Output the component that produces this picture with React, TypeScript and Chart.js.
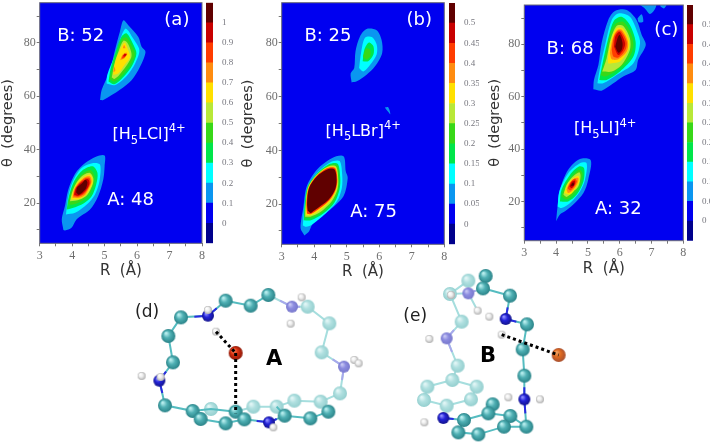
import React, { useEffect, useRef } from "react";
import { Chart, registerables } from "chart.js";
Chart.register(...registerables);

type Pt = number[];
type Ring = [number, Pt[]];

// ---- axis ticks ----
const rTicks = [3, 3.5, 4, 4.5, 5, 5.5, 6, 6.5, 7, 7.5, 8];
const thetaTicks = [10, 20, 30, 40, 50, 60, 70, 80, 90];
const thetaLabels = [20, 40, 60, 80];
const barLabelsA = [0, 0.1, 0.2, 0.3, 0.4, 0.5, 0.6, 0.7, 0.8, 0.9, 1];
const barLabelsBC = [0, 0.05, 0.1, 0.15, 0.2, 0.25, 0.3, 0.35, 0.4, 0.45, 0.5];
const levelsA = [-0.1, 0, 0.1, 0.2, 0.3, 0.4, 0.5, 0.6, 0.7, 0.8, 0.9, 1, 1.1];
const levelsBC = [-0.05, 0, 0.05, 0.1, 0.15, 0.2, 0.25, 0.3, 0.35, 0.4, 0.45, 0.5, 0.55];
const levelColors = ["#00008c", "#0000f0", "#0a96f0", "#00ffff", "#00e64a", "#38d818", "#b8e838", "#ffe000", "#ff8c10", "#ff3c00", "#c80000", "#600000"];

// ---- contour rings: [index of level colour, [R, theta] vertices] ----
const panelA_stateB: Ring[] = [
  [2, [[4.86,58.6],[4.91,62.4],[5.17,69.8],[5.32,77.3],[5.47,84.1],[5.58,88.4],[5.73,86.6],[6.04,82.2],[6.14,78.5],[6.26,76.6],[6.09,71],[5.83,66],[5.47,62.4],[4.96,58.6]]],
  [3, [[5.06,64.8],[5.08,68],[5.32,75.4],[5.53,82.9],[5.66,85.3],[5.88,81.6],[6.07,77.3],[5.94,72.3],[5.68,67.6],[5.32,64.2]]],
  [4, [[5.12,65.5],[5.18,70],[5.35,77],[5.52,82.3],[5.68,83.5],[5.88,79.5],[5.98,76],[5.85,71.5],[5.6,67.5],[5.3,64.5]]],
  [5, [[5.16,66.5],[5.25,71],[5.42,77.5],[5.55,81.5],[5.68,82],[5.85,78.5],[5.93,75.5],[5.78,71.5],[5.55,68],[5.3,65.5]]],
  [6, [[5.22,67],[5.3,72],[5.45,77.5],[5.58,80.8],[5.7,80],[5.82,76.5],[5.82,74.5],[5.65,71],[5.45,68],[5.3,66.5]]],
  [7, [[5.26,68],[5.33,73],[5.5,78],[5.62,80],[5.72,77.5],[5.78,74.5],[5.6,71.5],[5.42,68.5]]],
  [8, [[5.48,73.5],[5.55,75.5],[5.68,76.3],[5.62,74.3]]],
  [8, [[5.27,69],[5.3,71],[5.33,69.5]]],
  [8, [[5.56,78],[5.6,79.2],[5.64,78]]],
  [9, [[5.52,74],[5.58,75.5],[5.7,75.9],[5.62,74.6]]],
  [10, [[5.57,75],[5.62,76],[5.67,75.5],[5.62,74.9]]],
];
const panelA_stateA: Ring[] = [
  [2, [[3.73,10],[3.68,14],[3.78,19],[3.88,25],[4.09,31],[4.4,35],[4.75,37.5],[5,37.8],[5,33.8],[4.96,29],[4.8,22.6],[4.55,17.6],[4.14,14],[3.98,10.8],[3.78,9.8]]],
  [3, [[3.81,15.8],[3.88,22.6],[4.02,28.2],[4.29,33.2],[4.65,35],[4.86,34.4],[4.84,28.2],[4.7,23.2],[4.45,19.5],[4.09,16.4]]],
  [4, [[3.83,17.6],[3.9,22.6],[4.06,28.2],[4.32,32.3],[4.63,33.8],[4.78,31.3],[4.74,27],[4.6,22.6],[4.35,19.9],[4.04,18.3]]],
  [5, [[3.88,19.5],[3.95,23.8],[4.12,28.2],[4.35,31.3],[4.57,32.3],[4.69,30],[4.67,27],[4.53,23.2],[4.29,20.7],[4.02,19.5]]],
  [6, [[3.93,20.7],[4.01,24.5],[4.16,28.2],[4.37,30.7],[4.55,31.3],[4.65,29.4],[4.63,27],[4.47,23.2],[4.24,21.4]]],
  [7, [[3.97,21.4],[4.04,24.8],[4.19,28.2],[4.38,30],[4.55,30.7],[4.63,28.8],[4.6,26.6],[4.43,23.2],[4.22,21.6]]],
  [8, [[4.01,22],[4.06,25.1],[4.21,27.8],[4.4,29.8],[4.55,30],[4.6,28.2],[4.55,26.3],[4.4,23.2],[4.21,22]]],
  [9, [[4.04,22.6],[4.09,25.3],[4.24,27.8],[4.42,29.4],[4.53,29.4],[4.57,27.8],[4.51,26],[4.37,23.5],[4.19,22.4]]],
  [10, [[4.06,23.2],[4.12,25.7],[4.26,27.6],[4.43,29],[4.51,28.8],[4.53,27.3],[4.45,25.3],[4.32,23.6],[4.19,22.8]]],
  [11, [[4.12,24.1],[4.16,26],[4.29,27.3],[4.41,28.8],[4.47,27.8],[4.43,25.7],[4.32,24.1],[4.2,23.2]]],
];
const panelB_stateB: Ring[] = [
  [2, [[5.15,65.3],[5.12,68.6],[5.23,70.7],[5.27,76.9],[5.41,82.5],[5.61,85.2],[5.92,84.7],[6.07,81.2],[6.09,76.3],[5.87,71.3],[5.61,68.2],[5.31,65.7]]],
  [2, [[6.17,56],[6.28,56],[6.34,53.5],[6.26,54.6]]],
  [3, [[5.38,70.7],[5.44,76.3],[5.56,81.9],[5.77,82.2],[5.92,79.4],[5.92,75.7],[5.72,71.9],[5.51,69.4]]],
  [4, [[5.49,73.2],[5.54,77.5],[5.68,80.2],[5.82,78.8],[5.82,75.7],[5.66,73.2]]],
  [5, [[5.5,75],[5.6,78],[5.72,77.5],[5.72,75],[5.6,73.8]]],
];
const panelB_stateA: Ring[] = [
  [2, [[3.7,8.3],[3.58,11.1],[3.67,19.1],[3.77,26.6],[4.08,32.8],[4.54,37.1],[4.9,37.8],[4.97,32.2],[5.03,29.7],[4.9,22.9],[4.49,17.9],[3.97,12.9],[3.84,9.8]]],
  [3, [[3.65,12],[3.7,19],[3.8,26],[4.08,31.5],[4.5,35.6],[4.78,36],[4.86,31],[4.85,26],[4.7,21],[4.35,16.5],[3.95,12.5],[3.75,11.5]]],
  [4, [[3.68,14],[3.71,20],[3.8,26.5],[4.06,31],[4.45,34.8],[4.72,35],[4.8,30],[4.78,25.5],[4.62,20.5],[4.28,16.5],[3.9,14]]],
  [5, [[3.7,15],[3.73,20.2],[3.81,26.3],[4.06,30.8],[4.42,34.2],[4.7,34.4],[4.76,29.5],[4.74,25.2],[4.58,20.8],[4.22,16.7],[3.88,14.8]]],
  [6, [[3.72,15.3],[3.74,20.3],[3.81,26.2],[4.06,30.7],[4.41,33.9],[4.67,34],[4.74,29.2],[4.71,25.2],[4.54,21],[4.18,16.9],[3.88,15.3]]],
  [7, [[3.74,15.8],[3.75,20.4],[3.82,26.1],[4.07,30.5],[4.4,33.6],[4.65,33.7],[4.72,29.1],[4.68,25.2],[4.5,21.2],[4.1,17],[3.88,15.8]]],
  [9, [[3.78,16.4],[3.76,20.4],[3.83,26],[4.07,30.4],[4.39,33.3],[4.64,33.4],[4.71,29],[4.66,25.3],[4.47,21.4],[4.03,17.2],[3.88,16.2]]],
  [11, [[3.8,17.5],[3.78,20.4],[3.84,26],[4.08,30.3],[4.38,32.8],[4.62,33],[4.69,29],[4.64,25.3],[4.44,21.6],[3.98,17.4],[3.89,16.7]]],
];
const panelC_stateB: Ring[] = [
  [2, [[5.17,62.8],[5.19,66.4],[5.33,72.1],[5.43,80.4],[5.64,89.3],[5.85,92.7],[6.22,93.1],[6.53,89.3],[6.69,83.6],[6.82,79.7],[6.58,74],[6.5,70.2],[6.11,67.7],[5.8,65.1],[5.43,62.3]]],
  [2, [[6.62,95.2],[6.79,93.7],[6.95,91.6],[7.09,93.1],[7.14,95.2]]],
  [2, [[7.27,94.6],[7.39,93.7],[7.47,95.2],[7.3,95.2]]],
  [2, [[6.56,89.9],[6.69,91.5],[6.74,88.6],[6.6,88.4]]],
  [3, [[5.3,65.1],[5.38,70.9],[5.54,79.7],[5.75,89.3],[5.96,91.8],[6.32,90.5],[6.55,84.8],[6.64,80.4],[6.43,72.8],[5.9,68.3],[5.48,65.1]]],
  [4, [[5.36,66.4],[5.45,72.1],[5.64,82.3],[5.82,89],[6.06,90.5],[6.32,87.4],[6.5,81],[6.43,75.3],[6.01,69.6],[5.59,66.4]]],
  [5, [[5.4,68.3],[5.54,74],[5.69,83.6],[5.87,87.8],[6.11,88.6],[6.35,84.2],[6.43,79.1],[6.22,73.4],[5.85,69.6],[5.54,67.7]]],
  [6, [[5.45,69.6],[5.59,74.7],[5.71,81.7],[5.9,87],[6.11,87],[6.32,82.3],[6.32,77.8],[6.06,72.1],[5.75,69.6]]],
  [7, [[5.64,75.9],[5.75,82.3],[5.9,86.1],[6.09,86.1],[6.29,81.7],[6.27,77.8],[6.01,73.4],[5.75,72.8],[5.64,72.8]]],
  [8, [[5.69,76.6],[5.78,82.3],[5.92,85.5],[6.07,85.5],[6.26,81],[6.22,77.2],[5.96,74.3],[5.75,74.3]]],
  [9, [[5.75,77.8],[5.82,82.9],[5.95,85.2],[6.06,84.8],[6.22,81],[6.18,77.8],[5.96,75],[5.8,75.3]]],
  [10, [[5.82,79.1],[5.86,82.9],[5.98,84.8],[6.04,84.2],[6.17,80.4],[6.11,77.8],[5.96,75.9]]],
  [11, [[5.86,79.1],[5.93,82.3],[6,83.6],[6.09,80.4],[6.06,77.8],[5.96,76.8]]],
];
const panelC_stateA: Ring[] = [
  [2, [[4,12.4],[4.04,17.5],[4.12,24.5],[4.38,32.1],[4.75,36.2],[5.09,35.7],[5.01,28.3],[4.86,23.2],[4.54,18.8],[4.28,16.2],[4.12,15]]],
  [3, [[4.05,18.1],[4.1,23.8],[4.38,30.8],[4.75,34.6],[4.96,34.6],[4.91,28.3],[4.75,23.8],[4.44,19.4],[4.17,17.5]]],
  [4, [[4.12,20],[4.17,24.5],[4.44,30.2],[4.73,33.4],[4.88,32.7],[4.86,27.6],[4.65,22.6],[4.38,20]]],
  [5, [[4.17,21.9],[4.25,25.1],[4.49,29.6],[4.73,32.1],[4.83,30.8],[4.77,26.4],[4.59,23.2],[4.33,20.7]]],
  [6, [[4.23,22.6],[4.33,26.4],[4.54,29.6],[4.73,31.1],[4.77,29.6],[4.7,25.7],[4.54,23.8],[4.33,21.7]]],
  [7, [[4.26,23.2],[4.35,26.4],[4.54,28.9],[4.7,29.8],[4.73,27.6],[4.62,25.1],[4.44,22.6]]],
  [8, [[4.33,24.5],[4.42,27],[4.56,28.7],[4.7,28.9],[4.67,26.8],[4.54,24.5],[4.38,23.2]]],
  [9, [[4.36,25.1],[4.47,27.6],[4.59,28.7],[4.65,27.6],[4.56,25.5],[4.44,24.2]]],
  [10, [[4.42,25.7],[4.49,27.4],[4.59,28],[4.59,26.6],[4.49,25.1]]],
  [11, [[4.46,26],[4.54,27.3],[4.56,26.2]]],
];

// ---- labels in data coordinates ----
type Run = { t: string; s?: -1 | 1 };
const compoundA: Run[] = [{ t: "[H" }, { t: "5", s: -1 }, { t: "LCl]" }, { t: "4+", s: 1 }];
const compoundB: Run[] = [{ t: "[H" }, { t: "5", s: -1 }, { t: "LBr]" }, { t: "4+", s: 1 }];
const compoundC: Run[] = [{ t: "[H" }, { t: "5", s: -1 }, { t: "LI]" }, { t: "4+", s: 1 }];

// ---- molecule (d): atom positions in the picture's own frame ----
const dCarbonGhost = [[563,65],[628,115],[605,202],[660,325],[523,347],[400,365],[470,365],[602,350],[273,372]];
const dCarbonFront = [[183,97],[145,153],[159,232],[135,361],[317,47],[392,62],[445,30],[218,378],[242,402],[317,415],[347,380],[373,403],[494,392],[571,400],[625,380]];
const dNitrogenGhost = [[516,65],[672,245]];
const dNitrogenFront = [[264,92],[118,287],[447,412]];
const dHydrogen = [[264,75],[288,140],[65,273],[122,276],[545,37],[512,116],[703,225],[716,235],[460,427]];
const dHalide = [[347,204]];
const dBondsGhost = [[[445,30],[516,65],[563,65],[628,115],[605,202],[672,245],[660,325],[602,350],[523,347],[470,365],[400,365],[347,380]], [[602,350],[625,380]]];
const dBondsFront = [[[317,47],[264,92],[183,97],[145,153],[159,232],[118,287],[135,361],[218,378],[242,402],[317,415],[373,403],[447,412],[494,392],[571,400],[625,380]], [[317,47],[392,62],[445,30]], [[218,378],[273,372],[347,380],[373,403]], [[494,392],[470,365]]];
const dBondsNFront = [[[223,95],[264,92],[290,70]], [[138,260],[118,287],[127,324]], [[410,408],[447,412],[470,402]]];
const dBondsNGhost = [[[480,47],[516,65],[540,65]], [[638,223],[672,245],[666,285]]];
const dContacts = [[[288,140],[347,204]], [[347,204],[347,385]]];

// ---- molecule (e) ----
const eCarbonGhost = [[235,32],[180,72],[215,155],[203,287],[187,330],[112,350],[102,390],[260,350],[243,388],[170,407]];
const eCarbonFront = [[287,18],[279,55],[360,77],[411,163],[398,238],[403,317],[409,470],[308,403],[295,430],[361,438],[342,470],[265,493],[205,487],[222,450]];
const eNitrogenGhost = [[235,70],[170,205]];
const eNitrogenFront = [[347,147],[403,388],[160,444]];
const eHydrogen = [[183,75],[263,122],[298,140],[335,194],[118,207],[355,382],[450,388],[103,457]];
const eHalide = [[506,255]];
const eBondsGhost = [[[235,32],[180,72],[235,70],[279,55]], [[235,70],[263,122]], [[215,155],[170,205],[203,287],[187,330],[112,350],[102,390],[170,407],[243,388],[260,350],[187,330]], [[180,72],[215,155]]];
const eBondsFront = [[[287,18],[279,55],[360,77],[347,147],[411,163],[398,238],[403,317],[403,388],[409,470],[342,470],[265,493],[205,487],[222,450],[295,430],[308,403]], [[160,444],[222,450]], [[295,430],[361,438],[342,470]], [[361,438],[409,470]]];
const eBondsNFront = [[[353,112],[347,147],[379,155]], [[403,352],[403,388],[406,430]], [[160,444],[191,447]]];
const eBondsNGhost = [[[257,62],[235,70]], [[192,180],[170,205],[186,246]]];
const eContacts = [[[335,194],[506,255]]];

const PANEL_BG = "#0000f0";
const TICK_FONT = "'Liberation Serif', serif";
const SANS = "'DejaVu Sans', sans-serif";

function ringDatasets(rings: Ring[]) {
  return rings.map(([lvl, pts], i) => ({
    data: [...pts, pts[0]].map(([x, y]) => ({ x, y })),
    showLine: true,
    fill: "shape",
    tension: 0.3,
    backgroundColor: levelColors[lvl],
    borderWidth: 0,
    pointRadius: 0,
    order: 1000 - i - lvl * 100,
  }));
}

type Lab = { x: number; y: number; runs: Run[]; size: number; color: string; weight?: string };

const textPlugin = (labels: Lab[]) => ({
  id: "plotText",
  afterDatasetsDraw(chart: any) {
    const ctx = chart.ctx;
    const { x: sx, y: sy } = chart.scales;
    ctx.save();
    ctx.textBaseline = "alphabetic";
    ctx.textAlign = "left";
    for (const l of labels) {
      let px = sx.getPixelForValue(l.x);
      const py = sy.getPixelForValue(l.y);
      ctx.fillStyle = l.color;
      for (const r of l.runs) {
        const size = r.s ? l.size * 0.72 : l.size;
        ctx.font = `${l.weight || "normal"} ${size}px ${SANS}`;
        const dy = r.s === -1 ? l.size * 0.28 : r.s === 1 ? -l.size * 0.42 : 0;
        ctx.fillText(r.t, px, py + dy);
        px += ctx.measureText(r.t).width;
      }
    }
    ctx.restore();
  },
});

const framePlugin = {
  id: "frame",
  beforeDraw(chart: any) {
    const { left, top, width, height } = chart.chartArea;
    chart.ctx.save();
    chart.ctx.fillStyle = PANEL_BG;
    chart.ctx.fillRect(left, top, width, height);
    chart.ctx.restore();
  },
  afterDraw(chart: any) {
    const { left, top, width, height } = chart.chartArea;
    chart.ctx.save();
    chart.ctx.strokeStyle = "#6a6a78";
    chart.ctx.lineWidth = 1;
    chart.ctx.strokeRect(left, top, width, height);
    chart.ctx.restore();
  },
};

const zeroPad = (s: any) => {
  s.paddingLeft = s.paddingRight = s.paddingTop = s.paddingBottom = 0;
};

function contourConfig(g: any, rings: Ring[], labels: Lab[]) {
  return {
    type: "scatter",
    data: { datasets: ringDatasets(rings) },
    plugins: [framePlugin, textPlugin(labels)],
    options: {
      animation: false,
      responsive: false,
      layout: { autoPadding: false, padding: { top: g.top, right: g.right, left: 0, bottom: 0 } },
      plugins: { legend: { display: false }, tooltip: { enabled: false }, filler: { propagate: false } },
      scales: {
        x: {
          type: "linear", min: 3, max: 8,
          afterBuildTicks: (s: any) => { s.ticks = rTicks.map((value) => ({ value })); },
          afterFit: (s: any) => { s.height = g.bottom; zeroPad(s); },
          grid: { drawOnChartArea: false, tickLength: 3, tickColor: "#777" },
          border: { display: false },
          ticks: { autoSkip: false, maxRotation: 0, padding: 2, color: "#6e6e6e", font: { family: TICK_FONT, size: 12 },
            callback: (v: number) => (Number.isInteger(v) ? String(v) : "") },
          title: { display: true, text: "R  (Å)", color: "#333", font: { family: SANS, size: 15 }, padding: { top: 0, bottom: g.xTitle } },
        },
        y: {
          type: "linear", min: 5, max: 95,
          afterBuildTicks: (s: any) => { s.ticks = thetaTicks.map((value) => ({ value })); },
          afterFit: (s: any) => { s.width = g.left; zeroPad(s); },
          grid: { drawOnChartArea: false, tickLength: 3, tickColor: "#777" },
          border: { display: false },
          ticks: { autoSkip: false, padding: 1, color: "#6e6e6e", font: { family: TICK_FONT, size: 12 },
            callback: (v: number) => (thetaLabels.includes(v) ? String(v) : "") },
          title: { display: true, text: "θ  (degrees)", color: "#333", font: { family: SANS, size: 14.5 }, padding: { top: 0, bottom: 1 } },
        },
      },
    },
  };
}

function colorbarConfig(g: any, levels: number[], labels: number[]) {
  return {
    type: "bar",
    data: {
      labels: [""],
      datasets: levelColors.map((c, i) => ({
        data: [[levels[i], levels[i + 1]]],
        backgroundColor: c,
        borderWidth: 0,
        barPercentage: 1,
        categoryPercentage: 1,
        grouped: false,
      })),
    },
    options: {
      animation: false,
      responsive: false,
      layout: { autoPadding: false, padding: { top: g.top, right: 0, left: 0, bottom: g.bottomPad } },
      plugins: { legend: { display: false }, tooltip: { enabled: false } },
      scales: {
        x: { display: false },
        y: {
          position: "right",
          min: levels[0], max: levels[levels.length - 1],
          afterBuildTicks: (s: any) => { s.ticks = labels.map((value) => ({ value })); },
          afterFit: (s: any) => { s.width = 24; zeroPad(s); },
          grid: { display: false },
          border: { display: false },
          ticks: { autoSkip: false, padding: 1, color: "#77777f", font: { family: TICK_FONT, size: 9 }, callback: (v: number) => String(v) },
        },
      },
    },
  };
}

function sphere(r: number, hi: string, mid: string, edge: string) {
  const c = document.createElement("canvas");
  c.width = c.height = r * 2 + 2;
  const ctx = c.getContext("2d")!;
  const o = r + 1;
  const g = ctx.createRadialGradient(o - r * 0.35, o - r * 0.4, r * 0.1, o, o, r);
  g.addColorStop(0, hi);
  g.addColorStop(0.45, mid);
  g.addColorStop(1, edge);
  ctx.fillStyle = g;
  ctx.beginPath();
  ctx.arc(o, o, r, 0, Math.PI * 2);
  ctx.fill();
  return c;
}

const toXY = (pts: number[][]) => pts.map(([x, y]) => ({ x, y }));
const joinPaths = (paths: number[][][]) => paths.flatMap((p) => [...toXY(p), { x: NaN, y: NaN }]);

function moleculeConfig(frame: any, m: any, labels: Lab[]) {
  const C = sphere(7, "#b8eeee", "#4fb0b4", "#2a8388");
  const Cg = sphere(7, "#e2f6f6", "#b0e0e0", "#94cfcf");
  const N = sphere(6, "#8f8fff", "#2222d8", "#14148c");
  const Ng = sphere(6, "#c8c8f4", "#8c8ce0", "#7878cc");
  const H = sphere(4, "#ffffff", "#eeeeee", "#b0b0b0");
  const X = sphere(7, m.haloHi, m.halo, m.haloEdge);
  const atoms = (data: number[][], style: any) => ({ data: toXY(data), pointStyle: style, pointRadius: 7, showLine: false });
  const bond = (paths: number[][][], color: string, w = 2) => ({ data: joinPaths(paths), showLine: true, spanGaps: false, borderColor: color, borderWidth: w, pointRadius: 0 });
  const list = [
    bond(m.bondsGhost, "#a6dede"),
    bond(m.bondsNGhost, "#a8a8ec"),
    atoms(m.cGhost, Cg),
    atoms(m.nGhost, Ng),
    bond(m.bondsFront, "#55bcc0"),
    bond(m.bondsNFront, "#2a2ae0"),
    atoms(m.cFront, C),
    atoms(m.nFront, N),
    atoms(m.h, H),
    atoms(m.x, X),
    { ...bond(m.contacts, "#000", 3), borderDash: [3, 3] },
  ];
  return {
    type: "scatter",
    data: { datasets: list.map((d, i) => ({ ...d, order: list.length - i })) },
    plugins: [textPlugin(labels)],
    options: {
      animation: false,
      responsive: false,
      clip: false,
      layout: { autoPadding: false, padding: 0 },
      plugins: { legend: { display: false }, tooltip: { enabled: false } },
      scales: {
        x: { display: false, type: "linear", min: frame.x0, max: frame.x1 },
        y: { display: false, type: "linear", min: frame.y0, max: frame.y1, reverse: true },
      },
    },
  };
}

const WHITE = "#ffffff";
const charts = () => [
  { left: 0, top: 0, w: 210, h: 285, cfg: contourConfig({ top: 2.7, right: 8, bottom: 41.7, left: 39.7, xTitle: 4.5 }, [...panelA_stateB, ...panelA_stateA], [
    { x: 3.54, y: 80.7, runs: [{ t: "B: 52" }], size: 18, color: WHITE },
    { x: 5.08, y: 19.2, runs: [{ t: "A: 48" }], size: 18, color: WHITE },
    { x: 6.84, y: 86.8, runs: [{ t: "(a)" }], size: 18, color: WHITE },
    { x: 5.24, y: 44, runs: compoundA, size: 16, color: WHITE },
  ]) },
  { left: 206, top: 0, w: 31, h: 250, cfg: colorbarConfig({ top: 2.7, bottomPad: 6.7 }, levelsA, barLabelsA) },
  { left: 240, top: 0, w: 212, h: 285, cfg: contourConfig({ top: 2.7, right: 7.7, bottom: 40.7, left: 41.7, xTitle: 3.5 }, [...panelB_stateB, ...panelB_stateA], [
    { x: 3.7, y: 80.9, runs: [{ t: "B: 25" }], size: 18, color: WHITE },
    { x: 5.11, y: 15, runs: [{ t: "A: 75" }], size: 18, color: WHITE },
    { x: 6.84, y: 86.6, runs: [{ t: "(b)" }], size: 18, color: WHITE },
    { x: 4.35, y: 45.5, runs: compoundB, size: 16, color: WHITE },
  ]) },
  { left: 448.7, top: 0, w: 30, h: 250, cfg: colorbarConfig({ top: 3, bottomPad: 5.7 }, levelsBC, barLabelsBC) },
  { left: 487, top: 0, w: 204, h: 285, cfg: contourConfig({ top: 5, right: 7.7, bottom: 44.3, left: 37.3, xTitle: 6.5 }, [...panelC_stateB, ...panelC_stateA], [
    { x: 3.7, y: 76.2, runs: [{ t: "B: 68" }], size: 18, color: WHITE },
    { x: 5.22, y: 15.3, runs: [{ t: "A: 32" }], size: 18, color: WHITE },
    { x: 7.09, y: 83.6, runs: [{ t: "(c)" }], size: 18, color: WHITE },
    { x: 4.56, y: 46, runs: compoundC, size: 16, color: WHITE },
  ]) },
  { left: 687.3, top: 0, w: 30, h: 250, cfg: colorbarConfig({ top: 5, bottomPad: 9.3 }, levelsBC, barLabelsBC) },
  { left: 120, top: 285, w: 270, h: 161, cfg: moleculeConfig({ x0: 0, x1: 810, y0: 0, y1: 483 }, {
    cGhost: dCarbonGhost, cFront: dCarbonFront, nGhost: dNitrogenGhost, nFront: dNitrogenFront, h: dHydrogen, x: dHalide,
    bondsGhost: dBondsGhost, bondsFront: dBondsFront, bondsNFront: dBondsNFront, bondsNGhost: dBondsNGhost, contacts: dContacts, halo: "#d83010", haloHi: "#ff8a60", haloEdge: "#8c1808",
  }, [
    { x: 45, y: 97, runs: [{ t: "(d)" }], size: 17, color: "#222" },
    { x: 438, y: 240, runs: [{ t: "A" }], size: 21, color: "#000", weight: "bold" },
  ]) },
  { left: 390, top: 255, w: 200, h: 191, cfg: moleculeConfig({ x0: 0, x1: 600, y0: -45, y1: 528 }, {
    cGhost: eCarbonGhost, cFront: eCarbonFront, nGhost: eNitrogenGhost, nFront: eNitrogenFront, h: eHydrogen, x: eHalide,
    bondsGhost: eBondsGhost, bondsFront: eBondsFront, bondsNFront: eBondsNFront, bondsNGhost: eBondsNGhost, contacts: eContacts, halo: "#e06a20", haloHi: "#f0a060", haloEdge: "#a85030",
  }, [
    { x: 40, y: 152, runs: [{ t: "(e)" }], size: 17, color: "#222" },
    { x: 270, y: 276, runs: [{ t: "B" }], size: 21, color: "#000", weight: "bold" },
  ]) },
];

export default function App() {
  const host = useRef<HTMLDivElement>(null);
  useEffect(() => {
    const made: Chart[] = [];
    const div = host.current!;
    for (const c of charts()) {
      const el = document.createElement("canvas");
      el.width = c.w;
      el.height = c.h;
      el.style.cssText = `position:absolute;display:block;left:${c.left}px;top:${c.top}px;width:${c.w}px;height:${c.h}px`;
      div.appendChild(el);
      made.push(new Chart(el, c.cfg as any));
    }
    return () => {
      made.forEach((m) => { const e = m.canvas; m.destroy(); e.remove(); });
    };
  }, []);
  return <div ref={host} style={{ position: "absolute", left: 0, top: 0, width: 710, height: 446, background: "#fff", overflow: "hidden" }} />;
}
